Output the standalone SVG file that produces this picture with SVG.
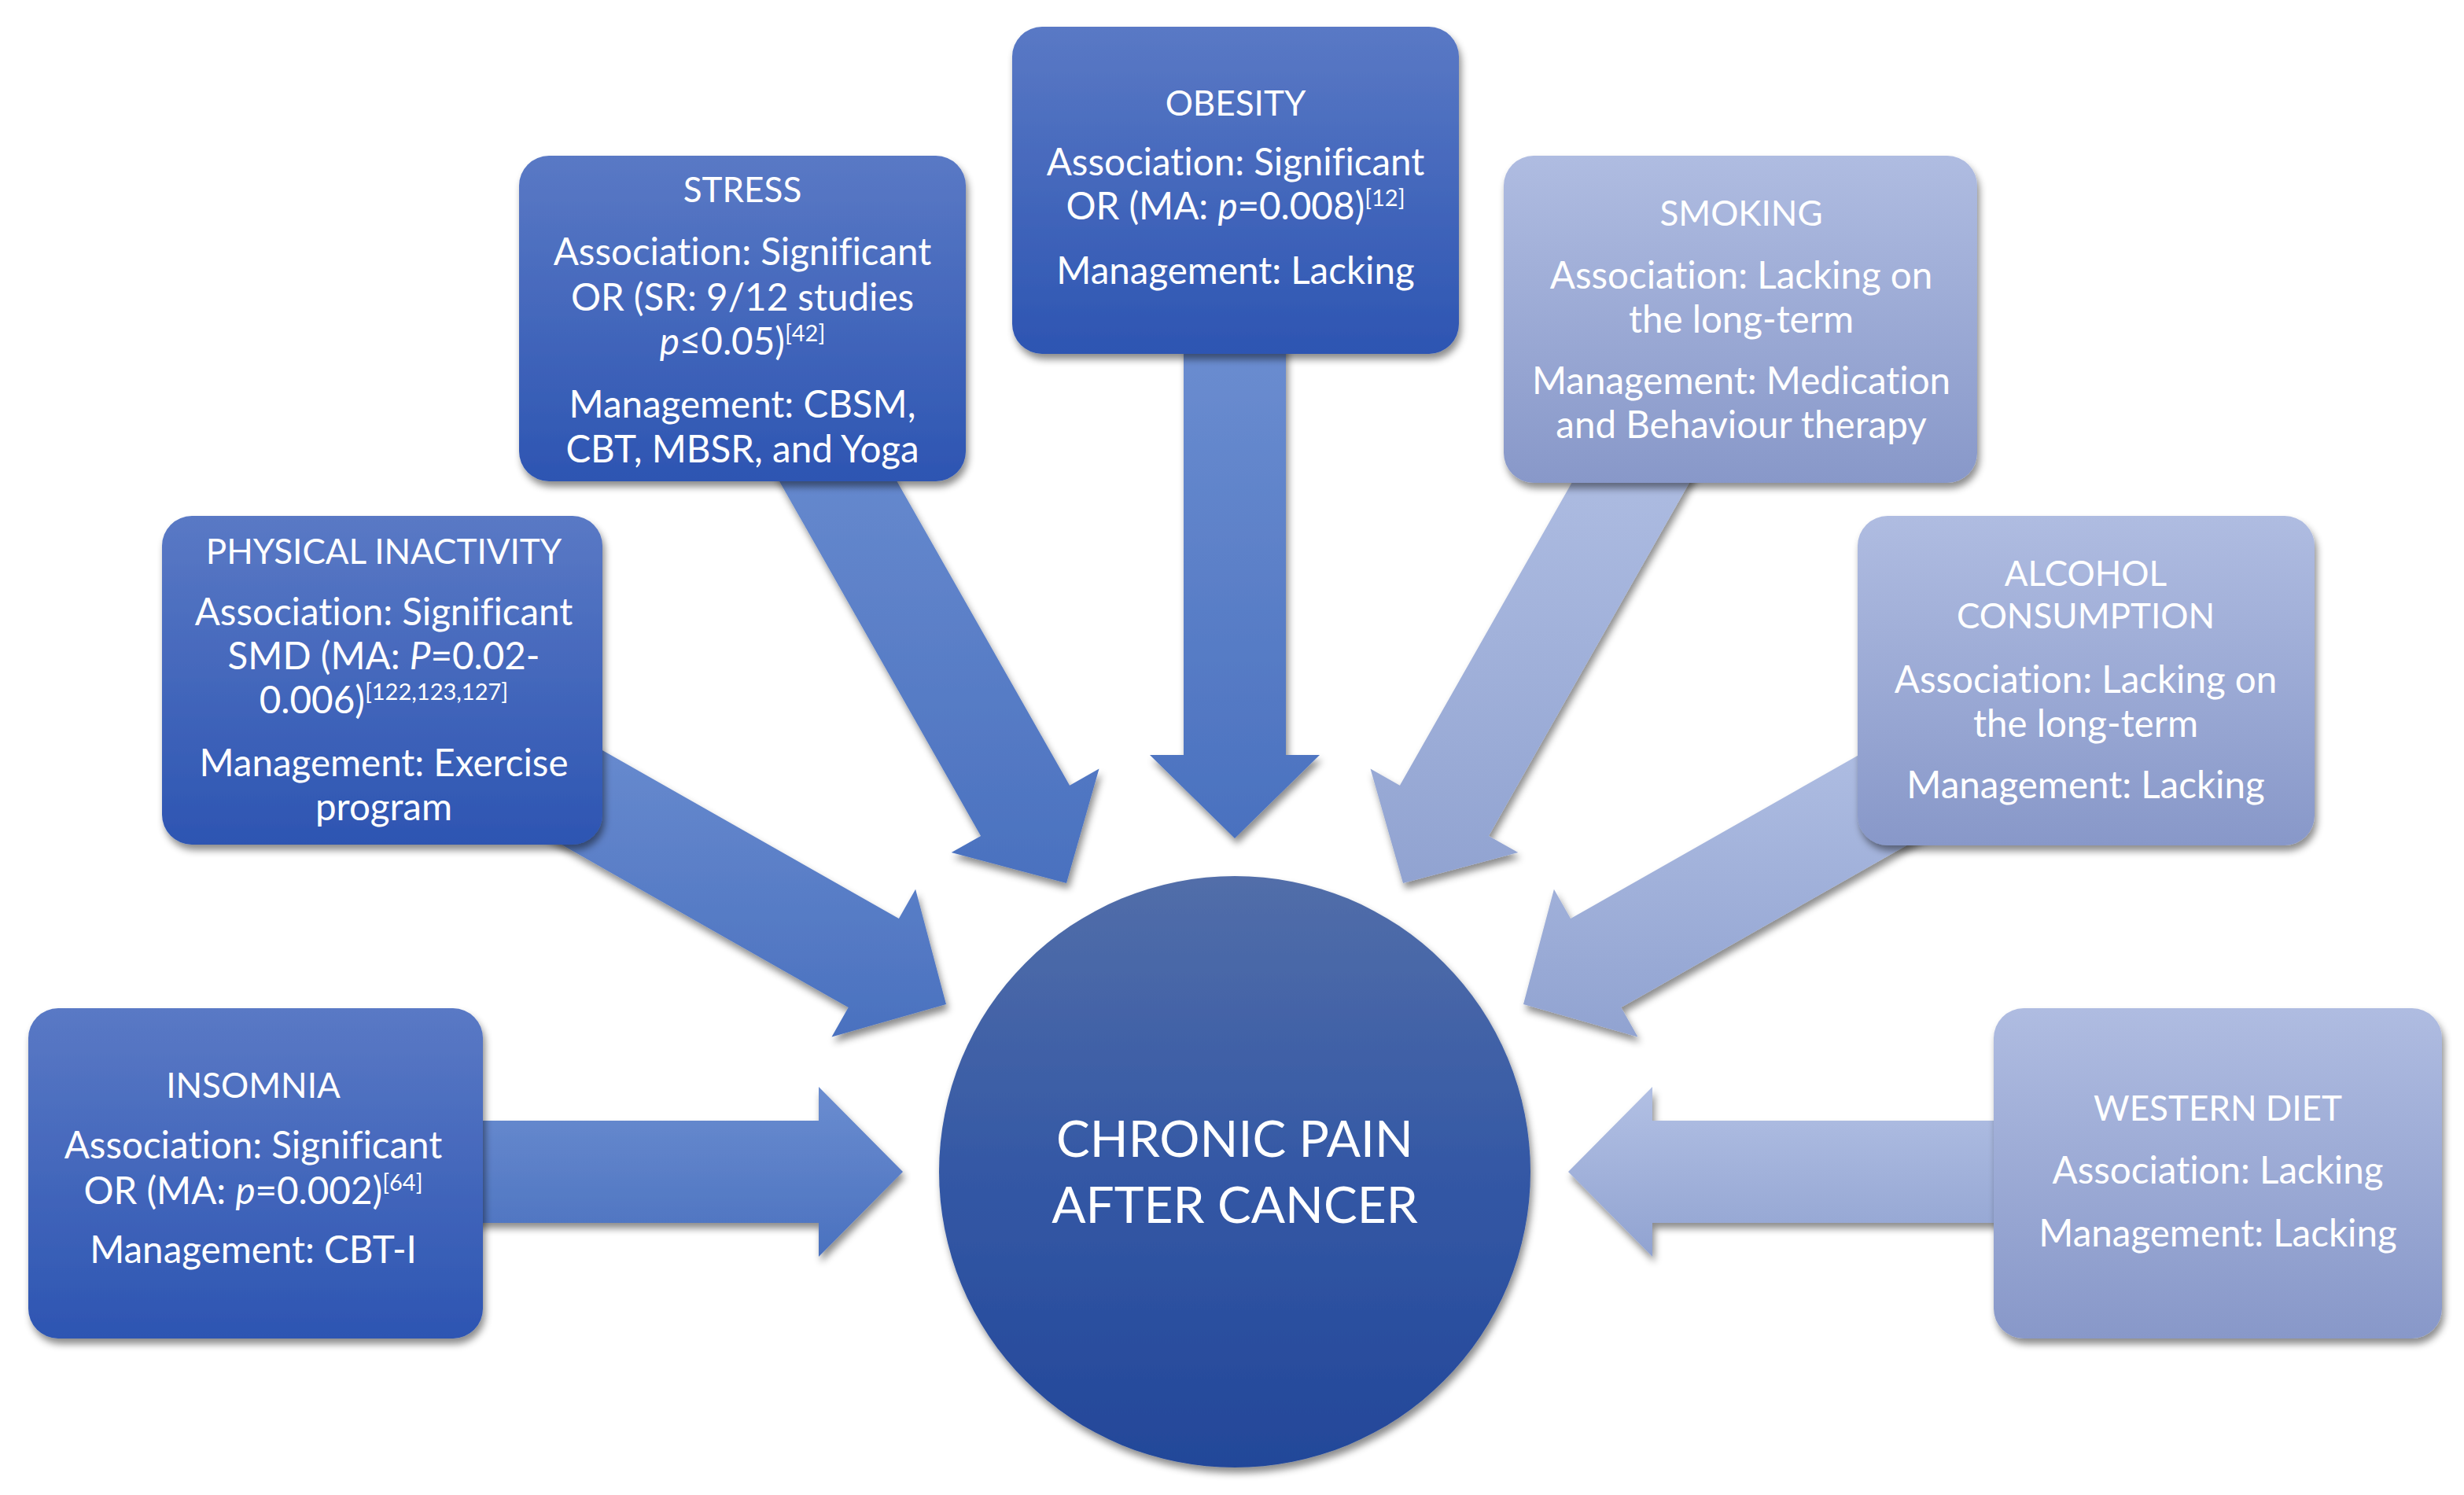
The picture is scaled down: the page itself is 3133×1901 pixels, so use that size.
<svg xmlns="http://www.w3.org/2000/svg" width="3133" height="1901" viewBox="0 0 3133 1901">
<defs>
<linearGradient id="gDarkBox" x1="0" y1="0" x2="0" y2="1"><stop offset="0" stop-color="#5a79c5"/><stop offset="1" stop-color="#2d55b2"/></linearGradient>
<linearGradient id="gLightBox" x1="0" y1="0" x2="0" y2="1"><stop offset="0" stop-color="#afbce1"/><stop offset="1" stop-color="#8898c9"/></linearGradient>
<linearGradient id="gDarkArrow" x1="0" y1="0" x2="0" y2="1"><stop offset="0" stop-color="#6b8dd0"/><stop offset="1" stop-color="#4a71bf"/></linearGradient>
<linearGradient id="gLightArrow" x1="0" y1="0" x2="0" y2="1"><stop offset="0" stop-color="#b2c0e4"/><stop offset="1" stop-color="#91a3d1"/></linearGradient>
<linearGradient id="gCircle" x1="0" y1="0" x2="0" y2="1"><stop offset="0" stop-color="#526ea9"/><stop offset="0.5" stop-color="#3458a5"/><stop offset="1" stop-color="#234799"/></linearGradient>
<filter id="sh" x="-10%" y="-10%" width="125%" height="130%"><feDropShadow dx="3" dy="7" stdDeviation="5" flood-color="#000" flood-opacity="0.45"/></filter>
</defs>
<style>
.t{font-family:Lato,"Open Sans","Liberation Sans",sans-serif;fill:#ffffff;font-size:47.5px;text-anchor:middle;font-variant-ligatures:none;font-feature-settings:"liga" 0}
.h{font-size:44px}
.sup{font-size:29px}
.big{font-size:64px}
.dk{fill:url(#gDarkBox)}
.lt{fill:url(#gLightBox)}
.da{fill:url(#gDarkArrow)}
.la{fill:url(#gLightArrow)}
</style>
<rect width="3133" height="1901" fill="#ffffff"/>
<g id="connectors" filter="url(#sh)">
<polygon class="da" points="590,1425 1041,1425 1041,1382 1148,1490 1041,1598 1041,1555 590,1555"/>
<polygon class="la" points="2555,1425 2101,1425 2101,1382 1994,1490 2101,1598 2101,1555 2555,1555"/>
<polygon class="da" points="1505,430 1505,960 1462,960 1570,1066 1678,960 1635,960 1635,430"/>
<polygon class="da" points="963.6,563.8 1247.1,1062.9 1209.7,1084.1 1356,1123 1397.5,977.5 1360.1,998.7 1076.6,499.6"/>
<polygon class="la" points="2176.4,563.8 1892.9,1062.9 1930.3,1084.1 1784,1123 1742.5,977.5 1779.9,998.7 2063.4,499.6"/>
<polygon class="da" points="605.7,1012.5 1078.7,1281.1 1057.5,1318.5 1203,1277 1164.1,1130.7 1142.9,1168.1 669.9,899.5"/>
<polygon class="la" points="2534.3,1012.5 2061.3,1281.1 2082.5,1318.5 1937,1277 1975.9,1130.7 1997.1,1168.1 2470.1,899.5"/>
</g>
<g id="insomnia">
<rect class="dk" x="36" y="1282" width="578" height="420" rx="38" filter="url(#sh)"/>
<text class="t h" x="322" y="1396">INSOMNIA</text>
<text class="t" x="322" y="1473">Association: Significant</text>
<text class="t" x="322" y="1531">OR (MA: <tspan font-style="italic">p</tspan>=0.002)<tspan class="sup" dy="-17">[64]</tspan></text>
<text class="t" x="322" y="1606">Management: CBT-I</text>
</g>
<g id="physical-inactivity">
<rect class="dk" x="206" y="656" width="560" height="418" rx="38" filter="url(#sh)"/>
<text class="t h" x="488" y="717">PHYSICAL INACTIVITY</text>
<text class="t" x="488" y="795">Association: Significant</text>
<text class="t" x="488" y="851">SMD (MA: <tspan font-style="italic">P</tspan>=0.02-</text>
<text class="t" x="488" y="907">0.006)<tspan class="sup" dy="-17">[122,123,127]</tspan></text>
<text class="t" x="488" y="987">Management: Exercise</text>
<text class="t" x="488" y="1043">program</text>
</g>
<g id="stress">
<rect class="dk" x="660" y="198" width="568" height="414" rx="38" filter="url(#sh)"/>
<text class="t h" x="944" y="257">STRESS</text>
<text class="t" x="944" y="337">Association: Significant</text>
<text class="t" x="944" y="395">OR (SR: 9/12 studies</text>
<text class="t" x="944" y="451"><tspan font-style="italic">p</tspan>≤0.05)<tspan class="sup" dy="-17">[42]</tspan></text>
<text class="t" x="944" y="531">Management: CBSM,</text>
<text class="t" x="944" y="588">CBT, MBSR, and Yoga</text>
</g>
<g id="obesity">
<rect class="dk" x="1287" y="34" width="568" height="416" rx="38" filter="url(#sh)"/>
<text class="t h" x="1571" y="147">OBESITY</text>
<text class="t" x="1571" y="223">Association: Significant</text>
<text class="t" x="1571" y="279">OR (MA: <tspan font-style="italic">p</tspan>=0.008)<tspan class="sup" dy="-17">[12]</tspan></text>
<text class="t" x="1571" y="361">Management: Lacking</text>
</g>
<g id="smoking">
<rect class="lt" x="1912" y="198" width="602" height="416" rx="38" filter="url(#sh)"/>
<text class="t h" x="2214" y="287">SMOKING</text>
<text class="t" x="2214" y="367">Association: Lacking on</text>
<text class="t" x="2214" y="423">the long-term</text>
<text class="t" x="2214" y="501">Management: Medication</text>
<text class="t" x="2214" y="557">and Behaviour therapy</text>
</g>
<g id="alcohol">
<rect class="lt" x="2362" y="656" width="581" height="419" rx="38" filter="url(#sh)"/>
<text class="t h" x="2652" y="745">ALCOHOL</text>
<text class="t h" x="2652" y="799">CONSUMPTION</text>
<text class="t" x="2652" y="881">Association: Lacking on</text>
<text class="t" x="2652" y="937">the long-term</text>
<text class="t" x="2652" y="1015">Management: Lacking</text>
</g>
<g id="western-diet">
<rect class="lt" x="2535" y="1282" width="570" height="420" rx="38" filter="url(#sh)"/>
<text class="t h" x="2820" y="1425">WESTERN DIET</text>
<text class="t" x="2820" y="1505">Association: Lacking</text>
<text class="t" x="2820" y="1585">Management: Lacking</text>
</g>
<g id="chronic-pain">
<circle cx="1570" cy="1490" r="376" fill="url(#gCircle)" filter="url(#sh)"/>
<text class="t big" x="1570" y="1471">CHRONIC PAIN</text>
<text class="t big" x="1570" y="1555">AFTER CANCER</text>
</g>
</svg>
